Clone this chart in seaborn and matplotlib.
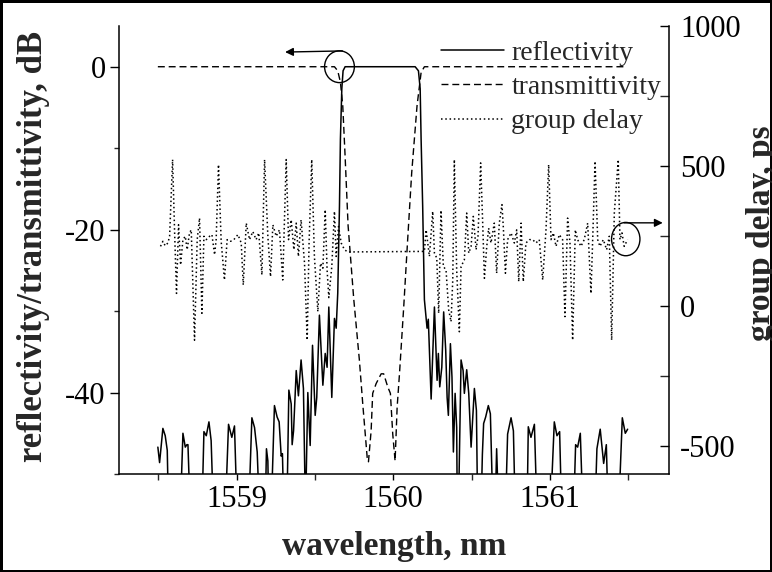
import matplotlib
matplotlib.use("Agg")
import matplotlib.pyplot as plt
import seaborn as sns
from matplotlib.patches import Ellipse
from matplotlib.ticker import MultipleLocator, FixedLocator

# ---------------- data ----------------
wl_refl = [1558.498, 1558.509, 1558.530, 1558.545, 1558.558, 1558.566,
           1558.641, 1558.658, 1558.673, 1558.683, 1558.690, 1558.705,
           1558.779, 1558.792, 1558.807, 1558.824, 1558.838, 1558.853,
           1558.928, 1558.949, 1558.970, 1558.987, 1559.004,
           1559.077, 1559.098, 1559.115, 1559.132, 1559.147,
           1559.183, 1559.191, 1559.200, 1559.206,
           1559.221, 1559.242, 1559.259, 1559.272, 1559.285, 1559.293, 1559.302,
           1559.321, 1559.334, 1559.349, 1559.355, 1559.364, 1559.381, 1559.395, 1559.412, 1559.427, 1559.440,
           1559.455, 1559.470, 1559.485, 1559.502, 1559.512, 1559.529, 1559.540, 1559.551, 1559.566, 1559.578,
           1559.589, 1559.608, 1559.625, 1559.636,
           1559.646, 1559.657, 1559.663, 1559.672, 1559.680, 1559.693,
           1560.140, 1560.161, 1560.172, 1560.178, 1560.188, 1560.199,
           1560.216, 1560.224, 1560.242, 1560.263, 1560.280, 1560.288, 1560.297, 1560.310, 1560.322,
           1560.335, 1560.344, 1560.352, 1560.365, 1560.375, 1560.384, 1560.395, 1560.405, 1560.409,
           1560.416, 1560.433, 1560.446, 1560.454, 1560.469, 1560.482, 1560.497, 1560.518, 1560.531, 1560.539,
           1560.560, 1560.569, 1560.577, 1560.590, 1560.607, 1560.620, 1560.637,
           1560.650, 1560.660, 1560.673,
           1560.716, 1560.730, 1560.752, 1560.767, 1560.779,
           1560.854, 1560.862, 1560.879, 1560.901, 1560.918,
           1561.003, 1561.028, 1561.045, 1561.062, 1561.075,
           1561.151, 1561.164, 1561.177, 1561.194, 1561.211,
           1561.287, 1561.300, 1561.321, 1561.343, 1561.360, 1561.372,
           1561.438, 1561.462, 1561.481, 1561.496]
refl_db = [-46.7, -48.6, -44.4, -45.3, -47.1, -55,
           -55, -45.0, -46.7, -46.4, -46.4, -55,
           -55, -44.8, -45.3, -43.6, -45.9, -55,
           -55, -43.9, -45.5, -44.1, -55,
           -55, -43.1, -44.3, -47.3, -55,
           -55, -46.9, -48.4, -55,
           -55, -41.6, -43.0, -43.6, -47.8, -47.5, -55,
           -55, -39.7, -41.4, -46.4, -44.7, -37.3, -40.4, -36.0, -39.5, -55,
           -40.0, -46.5, -34.2, -42.8, -40.6, -30.5, -34.8, -39.1, -35.2, -36.9,
           -29.5, -40.6, -30.9, -32.1,
           -27.8, -17.1, -8.9, -2.7, -0.5, 0.0,
           0.0, -0.5, -2.7, -8.9, -17.1, -28.6,
           -32.1, -31.0, -40.8, -29.5, -38.5, -35.2, -39.3, -36.9, -30.1,
           -34.8, -40.6, -42.8, -34.0, -38.1, -47.3, -40.1, -44.3, -55,
           -55, -36.0, -37.3, -40.1, -37.2, -40.1, -46.7, -39.5, -42.2, -55,
           -55, -47.6, -43.8, -43.0, -41.6, -42.6, -55,
           -55, -46.9, -55,
           -55, -45.1, -43.1, -44.7, -55,
           -55, -44.2, -45.5, -43.9, -55,
           -55, -43.6, -45.3, -44.8, -55,
           -55, -46.4, -46.7, -45.0, -55,
           -55, -46.9, -44.5, -48.7, -46.4, -55,
           -55, -43.1, -45.0, -44.5]

wl_trans = [1558.498, 1559.625, 1559.646, 1559.663, 1559.678, 1559.693, 1559.712, 1559.748,
            1559.784, 1559.806, 1559.834, 1559.842, 1559.859, 1559.869, 1559.891, 1559.923,
            1559.939, 1559.965, 1559.982, 1559.997, 1560.012, 1560.025, 1560.040, 1560.067,
            1560.092, 1560.118, 1560.152, 1560.178, 1560.199, 1561.485]
trans_db = [0, 0, -0.5, -1.9, -4.8, -11.0, -19.5, -28.5,
            -36.0, -41.5, -48.0, -48.5, -44.7, -40.1, -38.9, -37.7,
            -37.7, -39.3, -40.1, -45.1, -48.4, -41.8, -37.7, -29.5,
            -21.3, -13.0, -4.8, -0.7, 0, 0]

wl_gd = [1558.515, 1558.530, 1558.545, 1558.562, 1558.573, 1558.592, 1558.605, 1558.617, 1558.630, 1558.643,
         1558.658, 1558.673, 1558.685, 1558.700, 1558.711, 1558.732, 1558.749, 1558.764, 1558.779, 1558.792,
         1558.807, 1558.828, 1558.843, 1558.860, 1558.870, 1558.885, 1558.902, 1558.923, 1558.940, 1558.962,
         1558.983, 1559.009, 1559.030, 1559.043, 1559.062, 1559.083, 1559.104, 1559.125, 1559.142, 1559.162,
         1559.179, 1559.200, 1559.217, 1559.232, 1559.253, 1559.274, 1559.295, 1559.317, 1559.332, 1559.349,
         1559.366, 1559.381, 1559.395, 1559.412, 1559.434, 1559.451, 1559.463, 1559.480, 1559.497, 1559.519,
         1559.536, 1559.551, 1559.566, 1559.578, 1559.589, 1559.608, 1559.625, 1559.636, 1559.651, 1559.668,
         1559.689, 1559.710, 1560.199,
         1560.210, 1560.231, 1560.252, 1560.263, 1560.278, 1560.290, 1560.305, 1560.320, 1560.337, 1560.354,
         1560.369, 1560.380, 1560.390, 1560.405, 1560.422, 1560.433, 1560.454, 1560.469, 1560.482, 1560.497,
         1560.511, 1560.529, 1560.541, 1560.558, 1560.571, 1560.582, 1560.597, 1560.609, 1560.624, 1560.645,
         1560.660, 1560.677, 1560.694, 1560.703, 1560.716, 1560.730, 1560.752, 1560.773, 1560.788, 1560.801,
         1560.816, 1560.830, 1560.847, 1560.869, 1560.890, 1560.911, 1560.932, 1560.954, 1560.975, 1560.992,
         1561.007, 1561.022, 1561.039, 1561.060, 1561.081, 1561.096, 1561.113, 1561.128, 1561.145, 1561.162,
         1561.177, 1561.198, 1561.219, 1561.241, 1561.262, 1561.273, 1561.288, 1561.305, 1561.319, 1561.341,
         1561.362, 1561.379, 1561.394, 1561.411, 1561.436, 1561.447, 1561.460, 1561.474, 1561.496]
gd_ps = [213, 231, 215, 225, 249, 523, 261, 45, 290, 147,
         237, 249, 201, 261, 272, -122, 237, 314, -26, 249,
         237, 249, 255, 183, 237, 505, 231, 93, 237, 231,
         237, 255, 225, 75, 296, 237, 266, 237, 261, 111,
         523, 249, 105, 290, 249, 272, 93, 523, 237, 308,
         201, 296, 177, 308, 153, -122, 225, 523, 177, -20,
         153, 135, 344, 129, 30, 141, 338, 177, 284, 225,
         201, 193, 195,
         272, 177, 338, 189, 171, -26, 342, 141, 129, -14,
         -56, 93, 523, 129, -92, 141, 165, 332, 189, 213,
         320, 201, 249, 511, 296, 99, 213, 278, 225, 296,
         117, 296, 362, 278, 117, 237, 261, 225, 272, 87,
         296, 87, 225, 237, 237, 225, 237, 93, 272, 505,
         237, 261, 213, 255, 237, -38, 314, 225, -122, 272,
         237, 213, 237, 296, 45, 237, 517, 237, 213, 237,
         201, 249, -122, 332, 523, 237, 261, 213, 237]

x_ticks = [1559, 1560, 1561]
series_labels = ["reflectivity", "transmittivity", "group delay"]

# ---------------- style ----------------
sns.set_style("ticks")
plt.rcParams["font.family"] = ["Liberation Serif", "DejaVu Serif"]
plt.rcParams["axes.unicode_minus"] = False

fig = plt.figure(figsize=(7.72, 5.72), dpi=100, facecolor="white",
                 edgecolor="black", linewidth=2.5)
ax = fig.add_axes([119 / 772, 1 - 474 / 572, 550 / 772, 448 / 572])
ax2 = ax.twinx()

sns.lineplot(x=wl_trans, y=trans_db, ax=ax, color="black", lw=1.0,
             linestyle=(0, (5.0, 2.8)), estimator=None, sort=False,
             label=series_labels[1])
sns.lineplot(x=wl_refl, y=refl_db, ax=ax, color="black", lw=1.1,
             linestyle="-", estimator=None, sort=False,
             label=series_labels[0])
sns.lineplot(x=wl_gd, y=gd_ps, ax=ax2, color="black", lw=1.1,
             linestyle=(0, (1.0, 1.8)), estimator=None, sort=False,
             label=series_labels[2])

for a in (ax, ax2):
    leg = a.get_legend()
    if leg is not None:
        leg.remove()

ax.set_xlim(1558.25, 1561.76)
ax.set_ylim(-50, 5)
ax2.set_ylim(-600, 1000)

ax.xaxis.set_major_locator(FixedLocator(x_ticks))
ax.xaxis.set_minor_locator(MultipleLocator(0.5))
ax.yaxis.set_major_locator(MultipleLocator(20))
ax.yaxis.set_minor_locator(MultipleLocator(10))
ax2.yaxis.set_major_locator(MultipleLocator(500))
ax2.yaxis.set_minor_locator(MultipleLocator(250))

for s in ("top", "right"):
    ax.spines[s].set_visible(False)
for s in ("top", "left", "bottom"):
    ax2.spines[s].set_visible(False)
for a, s in ((ax, "left"), (ax, "bottom"), (ax2, "right")):
    a.spines[s].set_linewidth(1.1)
    a.spines[s].set_color("black")

ax.tick_params(axis="y", which="major", direction="out", length=6.5, width=1,
               labelsize=22, pad=3, colors="black")
ax.tick_params(axis="y", which="minor", direction="out", length=3.5, width=1)
ax.tick_params(axis="x", which="major", direction="out", length=4, width=1,
               labelsize=22, pad=4, colors="black")
ax.tick_params(axis="x", which="minor", direction="out", length=4, width=1)
ax2.tick_params(axis="y", which="major", direction="in", length=6.5, width=1,
                labelsize=22, pad=8, colors="black")
ax2.tick_params(axis="y", which="minor", direction="in", length=6.5, width=1)

ax.set_xlabel("wavelength, nm", fontsize=24, fontweight="bold")
ax.set_ylabel("reflectivity/transmittivity, dB", fontsize=25, fontweight="bold")
ax2.set_ylabel("group delay, ps", fontsize=24, fontweight="bold")
ax.xaxis.set_label_coords(0.5, -0.128)
ax.yaxis.set_label_coords(-0.125, 0.509)
ax2.yaxis.set_label_coords(1.14, 0.538)

# legend (all three series)
handles = ax.get_lines()[:2] + ax2.get_lines()[:1]
h_by_label = {h.get_label(): h for h in handles}
ax2.legend([h_by_label[l] for l in series_labels], series_labels,
           loc="upper right", bbox_to_anchor=(0.986, 0.968), frameon=False,
           fontsize=20, handlelength=2.3, handletextpad=0.25,
           labelspacing=0.32, borderpad=0, borderaxespad=0)

# circle + arrow annotations
ax.add_patch(Ellipse((1559.657, 0.0), 0.19, 3.9, fill=False, lw=1.0,
                     edgecolor="black", zorder=5))
ax.annotate("", xy=(1559.31, 1.8), xytext=(1559.676, 1.94),
            arrowprops=dict(arrowstyle="-|>", lw=1.0, color="black",
                            mutation_scale=12, shrinkA=0, shrinkB=0))
ax2.add_patch(Ellipse((1561.484, 239), 0.181, 119, fill=False, lw=1.0,
                      edgecolor="black", zorder=5))
ax2.annotate("", xy=(1561.72, 297), xytext=(1561.474, 297),
             arrowprops=dict(arrowstyle="-|>", lw=1.0, color="black",
                             mutation_scale=12, shrinkA=0, shrinkB=0),
             annotation_clip=False)

fig.savefig("out.png", dpi=100)
